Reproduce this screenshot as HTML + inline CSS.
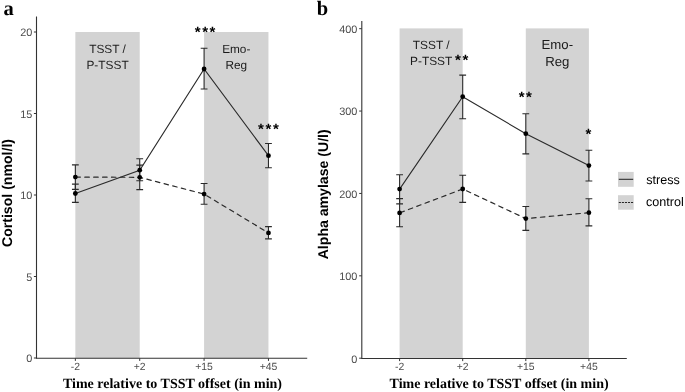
<!DOCTYPE html>
<html><head><meta charset="utf-8"><style>
html,body{margin:0;padding:0;background:#fff;}
body{width:685px;height:392px;overflow:hidden;}
svg{display:block;will-change:transform;}
text{text-rendering:geometricPrecision;}
</style></head><body>
<svg width="685" height="392" viewBox="0 0 685 392">
<rect width="685" height="392" fill="#fff"/>
<rect x="75.35" y="32.00" width="64.37" height="326.30" fill="#D3D3D3"/>
<rect x="204.09" y="32.00" width="64.37" height="326.30" fill="#D3D3D3"/>
<text x="107.53" y="52.60" text-anchor="middle" font-family='"Liberation Sans", sans-serif' font-size="11.9" fill="#1a1a1a">TSST /</text>
<text x="107.53" y="68.60" text-anchor="middle" font-family='"Liberation Sans", sans-serif' font-size="11.9" fill="#1a1a1a">P-TSST</text>
<text x="236.28" y="52.50" text-anchor="middle" font-family='"Liberation Sans", sans-serif' font-size="11.8" fill="#1a1a1a">Emo-</text>
<text x="236.28" y="69.00" text-anchor="middle" font-family='"Liberation Sans", sans-serif' font-size="11.8" fill="#1a1a1a">Reg</text>
<line x1="36.5" y1="16.5" x2="36.5" y2="358.3" stroke="#333333" stroke-width="1.1"/>
<line x1="35.95" y1="358.3" x2="307.2" y2="358.3" stroke="#333333" stroke-width="1.1"/>
<line x1="33.9" y1="358.00" x2="36.5" y2="358.00" stroke="#333333" stroke-width="1.0"/>
<text x="32.40" y="362.35" text-anchor="end" font-family='"Liberation Sans", sans-serif' font-size="10.9" fill="#4D4D4D">0</text>
<line x1="33.9" y1="276.50" x2="36.5" y2="276.50" stroke="#333333" stroke-width="1.0"/>
<text x="32.40" y="280.85" text-anchor="end" font-family='"Liberation Sans", sans-serif' font-size="10.9" fill="#4D4D4D">5</text>
<line x1="33.9" y1="195.00" x2="36.5" y2="195.00" stroke="#333333" stroke-width="1.0"/>
<text x="32.40" y="199.35" text-anchor="end" font-family='"Liberation Sans", sans-serif' font-size="10.9" fill="#4D4D4D">10</text>
<line x1="33.9" y1="113.50" x2="36.5" y2="113.50" stroke="#333333" stroke-width="1.0"/>
<text x="32.40" y="117.85" text-anchor="end" font-family='"Liberation Sans", sans-serif' font-size="10.9" fill="#4D4D4D">15</text>
<line x1="33.9" y1="32.00" x2="36.5" y2="32.00" stroke="#333333" stroke-width="1.0"/>
<text x="32.40" y="36.35" text-anchor="end" font-family='"Liberation Sans", sans-serif' font-size="10.9" fill="#4D4D4D">20</text>
<line x1="75.35" y1="358.3" x2="75.35" y2="360.90" stroke="#333333" stroke-width="1.0"/>
<text x="75.35" y="370.10" text-anchor="middle" font-family='"Liberation Sans", sans-serif' font-size="10.4" fill="#4D4D4D">-2</text>
<line x1="139.72" y1="358.3" x2="139.72" y2="360.90" stroke="#333333" stroke-width="1.0"/>
<text x="139.72" y="370.10" text-anchor="middle" font-family='"Liberation Sans", sans-serif' font-size="10.4" fill="#4D4D4D">+2</text>
<line x1="204.09" y1="358.3" x2="204.09" y2="360.90" stroke="#333333" stroke-width="1.0"/>
<text x="204.09" y="370.10" text-anchor="middle" font-family='"Liberation Sans", sans-serif' font-size="10.4" fill="#4D4D4D">+15</text>
<line x1="268.46" y1="358.3" x2="268.46" y2="360.90" stroke="#333333" stroke-width="1.0"/>
<text x="268.46" y="370.10" text-anchor="middle" font-family='"Liberation Sans", sans-serif' font-size="10.4" fill="#4D4D4D">+45</text>
<polyline points="75.35,177.10 139.72,177.30 204.09,194.10 268.46,232.90" fill="none" stroke="#2a2a2a" stroke-width="1.2" stroke-dasharray="4.5,4.4" stroke-dashoffset="-0.55" stroke-linecap="round"/>
<polyline points="75.35,193.50 139.72,170.20 204.09,69.00 268.46,155.70" fill="none" stroke="#2a2a2a" stroke-width="1.1"/>
<path d="M71.95,184.10H78.75M75.35,184.10V202.40M71.95,202.40H78.75" fill="none" stroke="#2a2a2a" stroke-width="1.1"/>
<path d="M136.32,158.80H143.12M139.72,158.80V180.80M136.32,180.80H143.12" fill="none" stroke="#2a2a2a" stroke-width="1.1"/>
<path d="M200.69,48.20H207.49M204.09,48.20V89.00M200.69,89.00H207.49" fill="none" stroke="#2a2a2a" stroke-width="1.1"/>
<path d="M265.06,143.50H271.86M268.46,143.50V167.80M265.06,167.80H271.86" fill="none" stroke="#2a2a2a" stroke-width="1.1"/>
<path d="M71.95,164.90H78.75M75.35,164.90V189.40M71.95,189.40H78.75" fill="none" stroke="#2a2a2a" stroke-width="1.1"/>
<path d="M136.32,165.10H143.12M139.72,165.10V189.60M136.32,189.60H143.12" fill="none" stroke="#2a2a2a" stroke-width="1.1"/>
<path d="M200.69,183.50H207.49M204.09,183.50V204.30M200.69,204.30H207.49" fill="none" stroke="#2a2a2a" stroke-width="1.1"/>
<path d="M265.06,226.60H271.86M268.46,226.60V238.90M265.06,238.90H271.86" fill="none" stroke="#2a2a2a" stroke-width="1.1"/>
<circle cx="75.35" cy="193.50" r="2.4" fill="#000"/>
<circle cx="139.72" cy="170.20" r="2.4" fill="#000"/>
<circle cx="204.09" cy="69.00" r="2.4" fill="#000"/>
<circle cx="268.46" cy="155.70" r="2.4" fill="#000"/>
<circle cx="75.35" cy="177.10" r="2.4" fill="#000"/>
<circle cx="139.72" cy="177.30" r="2.4" fill="#000"/>
<circle cx="204.09" cy="194.10" r="2.4" fill="#000"/>
<circle cx="268.46" cy="232.90" r="2.4" fill="#000"/>
<text transform="translate(197.75,28.90) scale(1,1.0)" x="0" y="7.69" text-anchor="middle" font-family='"Liberation Sans", sans-serif' font-size="15" font-weight="bold" fill="#000">*</text>
<text transform="translate(205.10,28.90) scale(1,1.0)" x="0" y="7.69" text-anchor="middle" font-family='"Liberation Sans", sans-serif' font-size="15" font-weight="bold" fill="#000">*</text>
<text transform="translate(212.45,28.90) scale(1,1.0)" x="0" y="7.69" text-anchor="middle" font-family='"Liberation Sans", sans-serif' font-size="15" font-weight="bold" fill="#000">*</text>
<text transform="translate(261.00,126.30) scale(1,1.0)" x="0" y="7.69" text-anchor="middle" font-family='"Liberation Sans", sans-serif' font-size="15" font-weight="bold" fill="#000">*</text>
<text transform="translate(268.50,126.30) scale(1,1.0)" x="0" y="7.69" text-anchor="middle" font-family='"Liberation Sans", sans-serif' font-size="15" font-weight="bold" fill="#000">*</text>
<text transform="translate(276.00,126.30) scale(1,1.0)" x="0" y="7.69" text-anchor="middle" font-family='"Liberation Sans", sans-serif' font-size="15" font-weight="bold" fill="#000">*</text>
<text transform="translate(12.10,193.00) rotate(-90)" text-anchor="middle" font-family='"Liberation Sans", sans-serif' font-weight="bold" font-size="14.1" fill="#000">Cortisol (nmol/l)</text>
<text x="172.50" y="387.9" text-anchor="middle" font-family='"Liberation Serif", serif' font-weight="bold" font-size="14" fill="#000">Time relative to TSST offset (in min)</text>
<rect x="399.60" y="28.40" width="63.10" height="330.10" fill="#D3D3D3"/>
<rect x="525.80" y="28.40" width="63.10" height="330.10" fill="#D3D3D3"/>
<text x="431.15" y="49.30" text-anchor="middle" font-family='"Liberation Sans", sans-serif' font-size="11.9" fill="#1a1a1a">TSST /</text>
<text x="431.15" y="65.20" text-anchor="middle" font-family='"Liberation Sans", sans-serif' font-size="11.9" fill="#1a1a1a">P-TSST</text>
<text x="557.35" y="49.30" text-anchor="middle" font-family='"Liberation Sans", sans-serif' font-size="13.2" fill="#1a1a1a">Emo-</text>
<text x="557.35" y="65.90" text-anchor="middle" font-family='"Liberation Sans", sans-serif' font-size="13.2" fill="#1a1a1a">Reg</text>
<line x1="361.8" y1="21.1" x2="361.8" y2="358.5" stroke="#333333" stroke-width="1.1"/>
<line x1="361.25" y1="358.5" x2="626.8" y2="358.5" stroke="#333333" stroke-width="1.1"/>
<line x1="359.2" y1="358.20" x2="361.8" y2="358.20" stroke="#333333" stroke-width="1.0"/>
<text x="357.30" y="362.55" text-anchor="end" font-family='"Liberation Sans", sans-serif' font-size="10.9" fill="#4D4D4D">0</text>
<line x1="359.2" y1="275.82" x2="361.8" y2="275.82" stroke="#333333" stroke-width="1.0"/>
<text x="357.30" y="280.17" text-anchor="end" font-family='"Liberation Sans", sans-serif' font-size="10.9" fill="#4D4D4D">100</text>
<line x1="359.2" y1="193.44" x2="361.8" y2="193.44" stroke="#333333" stroke-width="1.0"/>
<text x="357.30" y="197.79" text-anchor="end" font-family='"Liberation Sans", sans-serif' font-size="10.9" fill="#4D4D4D">200</text>
<line x1="359.2" y1="111.06" x2="361.8" y2="111.06" stroke="#333333" stroke-width="1.0"/>
<text x="357.30" y="115.41" text-anchor="end" font-family='"Liberation Sans", sans-serif' font-size="10.9" fill="#4D4D4D">300</text>
<line x1="359.2" y1="28.68" x2="361.8" y2="28.68" stroke="#333333" stroke-width="1.0"/>
<text x="357.30" y="33.03" text-anchor="end" font-family='"Liberation Sans", sans-serif' font-size="10.9" fill="#4D4D4D">400</text>
<line x1="399.60" y1="358.5" x2="399.60" y2="361.10" stroke="#333333" stroke-width="1.0"/>
<text x="399.60" y="370.30" text-anchor="middle" font-family='"Liberation Sans", sans-serif' font-size="10.4" fill="#4D4D4D">-2</text>
<line x1="462.70" y1="358.5" x2="462.70" y2="361.10" stroke="#333333" stroke-width="1.0"/>
<text x="462.70" y="370.30" text-anchor="middle" font-family='"Liberation Sans", sans-serif' font-size="10.4" fill="#4D4D4D">+2</text>
<line x1="525.80" y1="358.5" x2="525.80" y2="361.10" stroke="#333333" stroke-width="1.0"/>
<text x="525.80" y="370.30" text-anchor="middle" font-family='"Liberation Sans", sans-serif' font-size="10.4" fill="#4D4D4D">+15</text>
<line x1="588.90" y1="358.5" x2="588.90" y2="361.10" stroke="#333333" stroke-width="1.0"/>
<text x="588.90" y="370.30" text-anchor="middle" font-family='"Liberation Sans", sans-serif' font-size="10.4" fill="#4D4D4D">+45</text>
<polyline points="399.60,212.90 462.70,189.00 525.80,218.60 588.90,212.70" fill="none" stroke="#2a2a2a" stroke-width="1.2" stroke-dasharray="4.5,4.4" stroke-dashoffset="-0.55" stroke-linecap="round"/>
<polyline points="399.60,189.10 462.70,96.70 525.80,133.70 588.90,165.60" fill="none" stroke="#2a2a2a" stroke-width="1.1"/>
<path d="M396.20,174.80H403.00M399.60,174.80V203.90M396.20,203.90H403.00" fill="none" stroke="#2a2a2a" stroke-width="1.1"/>
<path d="M459.30,75.10H466.10M462.70,75.10V118.70M459.30,118.70H466.10" fill="none" stroke="#2a2a2a" stroke-width="1.1"/>
<path d="M522.40,113.80H529.20M525.80,113.80V153.90M522.40,153.90H529.20" fill="none" stroke="#2a2a2a" stroke-width="1.1"/>
<path d="M585.50,150.30H592.30M588.90,150.30V181.00M585.50,181.00H592.30" fill="none" stroke="#2a2a2a" stroke-width="1.1"/>
<path d="M396.20,198.60H403.00M399.60,198.60V226.80M396.20,226.80H403.00" fill="none" stroke="#2a2a2a" stroke-width="1.1"/>
<path d="M459.30,175.30H466.10M462.70,175.30V202.40M459.30,202.40H466.10" fill="none" stroke="#2a2a2a" stroke-width="1.1"/>
<path d="M522.40,206.50H529.20M525.80,206.50V230.40M522.40,230.40H529.20" fill="none" stroke="#2a2a2a" stroke-width="1.1"/>
<path d="M585.50,198.80H592.30M588.90,198.80V225.90M585.50,225.90H592.30" fill="none" stroke="#2a2a2a" stroke-width="1.1"/>
<circle cx="399.60" cy="189.10" r="2.4" fill="#000"/>
<circle cx="462.70" cy="96.70" r="2.4" fill="#000"/>
<circle cx="525.80" cy="133.70" r="2.4" fill="#000"/>
<circle cx="588.90" cy="165.60" r="2.4" fill="#000"/>
<circle cx="399.60" cy="212.90" r="2.4" fill="#000"/>
<circle cx="462.70" cy="189.00" r="2.4" fill="#000"/>
<circle cx="525.80" cy="218.60" r="2.4" fill="#000"/>
<circle cx="588.90" cy="212.70" r="2.4" fill="#000"/>
<text transform="translate(458.00,57.35) scale(1,1.0)" x="0" y="7.69" text-anchor="middle" font-family='"Liberation Sans", sans-serif' font-size="15" font-weight="bold" fill="#000">*</text>
<text transform="translate(465.30,57.35) scale(1,1.0)" x="0" y="7.69" text-anchor="middle" font-family='"Liberation Sans", sans-serif' font-size="15" font-weight="bold" fill="#000">*</text>
<text transform="translate(521.60,94.30) scale(1,1.0)" x="0" y="7.69" text-anchor="middle" font-family='"Liberation Sans", sans-serif' font-size="15" font-weight="bold" fill="#000">*</text>
<text transform="translate(529.00,94.30) scale(1,1.0)" x="0" y="7.69" text-anchor="middle" font-family='"Liberation Sans", sans-serif' font-size="15" font-weight="bold" fill="#000">*</text>
<text transform="translate(588.40,131.75) scale(1,1.0)" x="0" y="7.69" text-anchor="middle" font-family='"Liberation Sans", sans-serif' font-size="15" font-weight="bold" fill="#000">*</text>
<text transform="translate(327.90,194.30) rotate(-90)" text-anchor="middle" font-family='"Liberation Sans", sans-serif' font-weight="bold" font-size="14.1" fill="#000">Alpha amylase (U/l)</text>
<text x="499.10" y="387.9" text-anchor="middle" font-family='"Liberation Serif", serif' font-weight="bold" font-size="14" fill="#000">Time relative to TSST offset (in min)</text>

<rect x="618" y="171.9" width="15.7" height="14.9" fill="#D3D3D3"/>
<line x1="618.8" y1="179.3" x2="633.2" y2="179.3" stroke="#262626" stroke-width="1.05"/>
<rect x="618" y="195.2" width="15.7" height="14.5" fill="#D3D3D3"/>
<line x1="618.8" y1="202.5" x2="633.2" y2="202.5" stroke="#262626" stroke-width="1.05" stroke-dasharray="2.1,0.95"/>
<text x="646.2" y="184.0" font-family='"Liberation Sans", sans-serif' font-size="12.6" fill="#000">stress</text>
<text x="646.0" y="206.0" font-family='"Liberation Sans", sans-serif' font-size="12.6" fill="#000">control</text>


<text x="3.6" y="14.5" font-family='"Liberation Serif", serif' font-weight="bold" font-size="20.5" fill="#000">a</text>
<text x="316.8" y="15.0" font-family='"Liberation Serif", serif' font-weight="bold" font-size="20.5" fill="#000">b</text>

</svg>
</body></html>
